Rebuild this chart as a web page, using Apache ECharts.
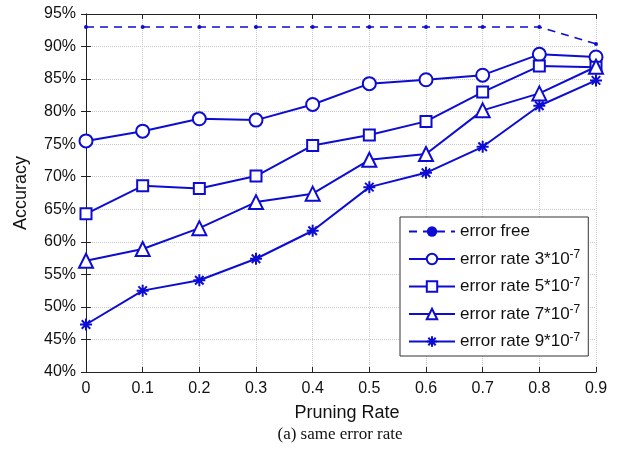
<!DOCTYPE html>
<html>
<head>
<meta charset="utf-8">
<script src="https://cdn.jsdelivr.net/npm/echarts@6/dist/echarts.min.js"></script>
<style>
  html, body { margin: 0; padding: 0; background: #fff; }
  #chart { width: 636px; height: 458px; }
</style>
</head>
<body>
<div id="chart"></div>
<script>
// pruning rates on the x axis
const pruningRates = [0, 0.1, 0.2, 0.3, 0.4, 0.5, 0.6, 0.7, 0.8, 0.9];

// accuracy (%)
const errorFree = [93.0, 93.0, 93.0, 93.0, 93.0, 93.0, 93.0, 93.0, 93.0, 90.4];
const rate3 = [75.5, 77.0, 78.9, 78.7, 81.1, 84.3, 84.9, 85.6, 88.8, 88.4];
const rate5 = [64.3, 68.6, 68.2, 70.1, 74.8, 76.4, 78.5, 83.0, 87.0, 86.8];
const rate7 = [57.1, 58.9, 62.1, 66.1, 67.4, 72.6, 73.5, 80.2, 82.8, 86.9];
const rate9 = [47.3, 52.5, 54.1, 57.4, 61.7, 68.4, 70.6, 74.6, 80.9, 84.8];

const yTicks = [40, 45, 50, 55, 60, 65, 70, 75, 80, 85, 90, 95];

const blue = "#0c0cd2";
const font = "Liberation Sans, Arial, sans-serif";
const asterisk = "path://M0,-10L0,10M-10,0L10,0M-7.07,-7.07L7.07,7.07M-7.07,7.07L7.07,-7.07";

function pairs(ys) {
  return pruningRates.map((x, i) => [x, ys[i]]);
}

function lineSeries(name, ys, symbol, size) {
  return {
    name: name,
    type: "line",
    data: pairs(ys),
    symbol: symbol,
    symbolSize: size,
    showAllSymbol: true,
    lineStyle: { color: blue, width: 2 },
    itemStyle: { color: blue, borderColor: blue, borderWidth: 2 },
    emphasis: { disabled: true },
    animation: false
  };
}

const chart = echarts.init(document.getElementById("chart"));
chart.setOption({
  backgroundColor: "#fff",
  title: {
    text: "(a) same error rate",
    left: 335,
    textAlign: "center",
    top: 421,
    textStyle: {
      fontFamily: "Liberation Serif, Times New Roman, serif",
      fontWeight: "normal",
      fontSize: 17,
      color: "#111"
    }
  },
  grid: { left: 86, right: 40, top: 14, bottom: 86 },
  legend: {
    orient: "vertical",
    left: 400,
    top: 217,
    backgroundColor: "#fff",
    borderColor: "#333",
    borderWidth: 1,
    borderRadius: 0,
    padding: [6, 8, 6, 8],
    itemGap: 9,
    itemWidth: 46,
    itemHeight: 13,
    textStyle: {
      fontFamily: font,
      fontSize: 17,
      color: "#111",
      rich: {
        sup: { fontSize: 12, verticalAlign: "top", padding: [0, 0, 8, 0], fontFamily: font, color: "#111" }
      }
    },
    formatter: function (name) {
      const m = name.match(/^(.*)\^(.*)$/);
      return m ? m[1] + "{sup|" + m[2] + "}" : name;
    },
    data: [
      "error free",
      "error rate 3*10^-7",
      "error rate 5*10^-7",
      "error rate 7*10^-7",
      "error rate 9*10^-7"
    ]
  },
  xAxis: [
    {
      type: "value",
      min: 0,
      max: 0.9,
      interval: 0.1,
      name: "Pruning Rate",
      nameLocation: "middle",
      nameGap: 32,
      nameTextStyle: { fontFamily: font, fontSize: 18, color: "#111", padding: [0, 0, 0, 12] },
      axisLine: { lineStyle: { color: "#222", width: 1 } },
      axisTick: { inside: true, length: 5, lineStyle: { color: "#222" } },
      axisLabel: { fontFamily: font, fontSize: 16, color: "#111", margin: 9 },
      splitLine: { show: true, lineStyle: { color: "#c8c8c8", type: "dotted" } }
    },
    {
      type: "value",
      position: "top",
      min: 0,
      max: 0.9,
      interval: 0.1,
      axisLine: { show: true, lineStyle: { color: "#222", width: 1 } },
      axisTick: { show: true, inside: true, length: 5, lineStyle: { color: "#222" } },
      axisLabel: { show: false },
      splitLine: { show: false }
    }
  ],
  yAxis: [
    {
      type: "value",
      min: 40,
      max: 95,
      interval: 5,
      name: "Accuracy",
      nameLocation: "middle",
      nameGap: 56,
      nameTextStyle: { fontFamily: font, fontSize: 18, color: "#111" },
      axisLine: { show: true, lineStyle: { color: "#222", width: 1 } },
      axisTick: { show: true, inside: true, length: 5, lineStyle: { color: "#222" } },
      axisLabel: {
        fontFamily: font,
        fontSize: 16,
        color: "#111",
        margin: 10,
        formatter: function (v) { return yTicks.indexOf(v) >= 0 ? v + "%" : ""; }
      },
      splitLine: { show: true, lineStyle: { color: "#c8c8c8", type: "dotted" } }
    },
    {
      type: "value",
      position: "right",
      min: 40,
      max: 95,
      interval: 5,
      axisLine: { show: true, lineStyle: { color: "#222", width: 1 } },
      axisTick: { show: true, inside: true, length: 5, lineStyle: { color: "#222" } },
      axisLabel: { show: false },
      splitLine: { show: false }
    }
  ],
  series: [
    Object.assign(lineSeries("error free", errorFree, "circle", 4), {
      lineStyle: { color: blue, width: 1.5, type: [8, 6] },
      itemStyle: { color: blue, borderWidth: 0 }
    }),
    lineSeries("error rate 3*10^-7", rate3, "emptyCircle", 13),
    lineSeries("error rate 5*10^-7", rate5, "emptyRect", 11),
    lineSeries("error rate 7*10^-7", rate7, "emptyTriangle", 14),
    lineSeries("error rate 9*10^-7", rate9, asterisk, 12)
  ]
});
</script>
</body>
</html>
